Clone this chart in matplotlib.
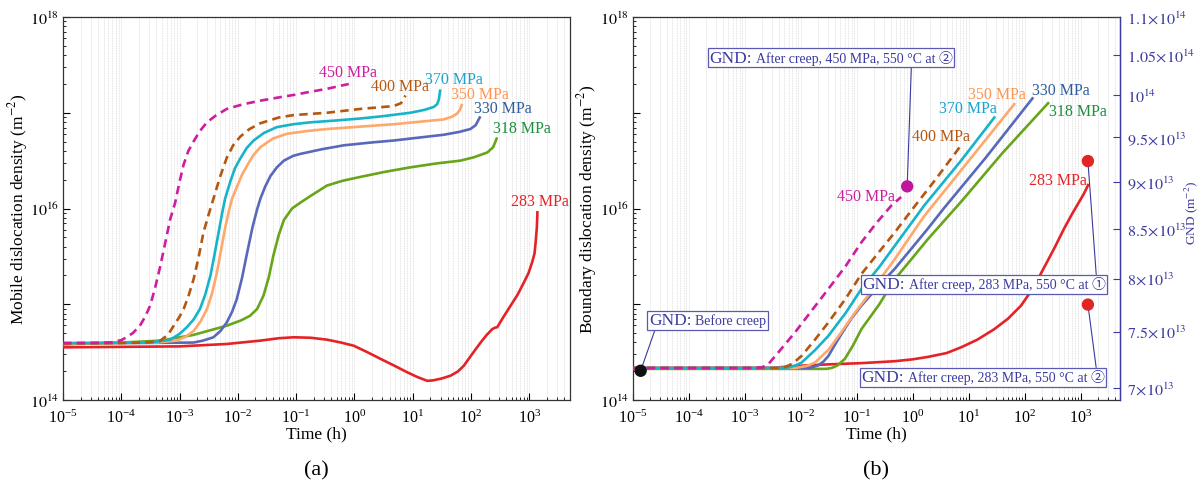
import numpy as np
import matplotlib
matplotlib.use('Agg')
import matplotlib.pyplot as plt
from matplotlib.ticker import (FixedLocator, FixedFormatter, LogLocator,
                               NullLocator, NullFormatter, FuncFormatter)
from matplotlib.offsetbox import TextArea, HPacker, AnnotationBbox

plt.rcParams['font.family'] = ['Liberation Serif', 'DejaVu Sans']
plt.rcParams['mathtext.fontset'] = 'stix'

# ---------------- data (log10 of time in h, log10 of density in m^-2) ----------------
labels = ['450 MPa', '400 MPa', '370 MPa', '350 MPa', '330 MPa', '318 MPa', '283 MPa']

# (a) Mobile dislocation density
mob_lt_450 = [-5, -4.5, -4.19, -4.0, -3.91, -3.8, -3.68, -3.59, -3.505, -3.42, -3.33, -3.25, -3.16, -3.076, -3.0, -2.93, -2.85, -2.76, -2.65, -2.53, -2.38, -2.19, -1.9, -1.615, -1.3, -1.04, -0.75, -0.47, -0.25, -0.098]
mob_lr_450 = [14.595, 14.597, 14.60, 14.625, 14.655, 14.70, 14.776, 14.87, 14.985, 15.17, 15.40, 15.63, 15.89, 16.06, 16.28, 16.46, 16.60, 16.70, 16.81, 16.90, 16.97, 17.04, 17.09, 17.126, 17.16, 17.186, 17.22, 17.25, 17.28, 17.30]
mob_lt_400 = [-5, -4, -3.6, -3.45, -3.33, -3.2, -3.10, -3.0, -2.93, -2.85, -2.76, -2.67, -2.59, -2.50, -2.42, -2.30, -2.19, -2.08, -1.96, -1.8, -1.615, -1.3, -1.04, -0.47, 0.103, 0.675, 0.80, 0.876]
mob_lr_400 = [14.59, 14.595, 14.60, 14.607, 14.62, 14.68, 14.776, 14.87, 14.95, 15.08, 15.26, 15.50, 15.75, 15.94, 16.10, 16.34, 16.53, 16.66, 16.75, 16.83, 16.89, 16.95, 16.976, 17.00, 17.04, 17.07, 17.10, 17.18]
mob_lt_370 = [-5, -3.5, -3.16, -3.0, -2.875, -2.76, -2.65, -2.56, -2.47, -2.40, -2.33, -2.27, -2.22, -2.13, -2.05, -1.96, -1.85, -1.73, -1.55, -1.33, -1.05, -0.756, -0.3, 0.103, 0.5, 0.96, 1.2, 1.36, 1.42, 1.45, 1.47]
mob_lr_370 = [14.595, 14.60, 14.63, 14.69, 14.76, 14.84, 14.95, 15.10, 15.30, 15.52, 15.75, 15.95, 16.10, 16.28, 16.42, 16.52, 16.63, 16.71, 16.79, 16.85, 16.88, 16.90, 16.92, 16.94, 16.965, 17.00, 17.03, 17.06, 17.09, 17.14, 17.23]
mob_lt_350 = [-5, -3.4, -3.05, -2.9, -2.76, -2.64, -2.53, -2.44, -2.36, -2.29, -2.22, -2.16, -2.10, -2.02, -1.93, -1.84, -1.73, -1.615, -1.4, -1.16, -0.8, -0.47, 0.1, 0.675, 1.1, 1.53, 1.68, 1.76, 1.81, 1.84]
mob_lr_350 = [14.59, 14.60, 14.62, 14.66, 14.72, 14.82, 14.95, 15.12, 15.33, 15.56, 15.79, 15.96, 16.10, 16.22, 16.35, 16.45, 16.56, 16.64, 16.73, 16.78, 16.81, 16.83, 16.855, 16.88, 16.905, 16.93, 16.96, 16.99, 17.03, 17.08]
mob_lt_330 = [-5, -2.76, -2.6, -2.42, -2.3, -2.19, -2.1, -2.02, -1.93, -1.84, -1.75, -1.67, -1.615, -1.53, -1.44, -1.33, -1.21, -1.05, -0.93, -0.55, -0.18, 0.3, 0.675, 1.1, 1.53, 1.8, 1.99, 2.08, 2.15]
mob_lr_330 = [14.59, 14.60, 14.62, 14.655, 14.72, 14.81, 14.92, 15.05, 15.27, 15.54, 15.80, 15.99, 16.10, 16.23, 16.34, 16.43, 16.50, 16.55, 16.57, 16.62, 16.66, 16.69, 16.71, 16.74, 16.77, 16.80, 16.83, 16.87, 16.95]
mob_lt_318 = [-5, -4, -3.33, -2.76, -2.19, -1.95, -1.79, -1.67, -1.56, -1.47, -1.39, -1.30, -1.21, -1.07, -0.93, -0.756, -0.6, -0.47, -0.2, 0.103, 0.5, 0.96, 1.4, 1.82, 2.05, 2.28, 2.38, 2.44]
mob_lr_318 = [14.58, 14.60, 14.62, 14.68, 14.776, 14.83, 14.88, 14.95, 15.09, 15.28, 15.51, 15.72, 15.88, 16.0, 16.06, 16.13, 16.19, 16.24, 16.29, 16.33, 16.38, 16.43, 16.47, 16.50, 16.535, 16.585, 16.64, 16.73]
mob_lt_283 = [-5, -3, -2.19, -1.615, -1.3, -1.04, -0.75, -0.47, -0.23, -0.012, 0.22, 0.447, 0.68, 0.905, 1.08, 1.25, 1.35, 1.5, 1.65, 1.78, 1.88, 2.02, 2.165, 2.27, 2.365, 2.41, 2.45, 2.56, 2.68, 2.80, 2.91, 2.99, 3.05, 3.09, 3.11, 3.13, 3.14]
mob_lr_283 = [14.55, 14.56, 14.585, 14.62, 14.645, 14.655, 14.65, 14.63, 14.60, 14.567, 14.50, 14.43, 14.36, 14.29, 14.24, 14.20, 14.205, 14.225, 14.254, 14.30, 14.36, 14.48, 14.60, 14.68, 14.74, 14.755, 14.76, 14.87, 14.985, 15.10, 15.23, 15.33, 15.44, 15.53, 15.65, 15.80, 15.96]

# (b) Boundary dislocation density
bnd_lt_450 = [-5, -2.85, -2.70, -2.58, -2.4, -2.105, -1.8, -1.51, -1.2, -0.92, -0.65, -0.386, -0.21]
bnd_lr_450 = [14.334, 14.334, 14.34, 14.376, 14.50, 14.707, 14.94, 15.16, 15.40, 15.647, 15.85, 16.03, 16.12]
bnd_lt_400 = [-5, -2.4, -2.28, -2.15, -1.99, -1.75, -1.51, -1.2, -0.92, -0.6, -0.325, 0.0, 0.4, 0.86]
bnd_lr_400 = [14.334, 14.334, 14.345, 14.38, 14.46, 14.63, 14.81, 15.06, 15.316, 15.55, 15.75, 16.0, 16.3, 16.66]
bnd_lt_370 = [-5, -2.3, -2.22, -2.1, -1.99, -1.75, -1.51, -1.2, -0.92, -0.6, -0.325, 0.2, 0.86, 1.454]
bnd_lr_370 = [14.334, 14.334, 14.34, 14.36, 14.39, 14.52, 14.67, 14.91, 15.16, 15.39, 15.61, 16.03, 16.50, 16.95]
bnd_lt_350 = [-5, -2.1, -1.9, -1.75, -1.5, -1.276, -1.05, -0.80, -0.325, 0.2, 1.0, 1.81]
bnd_lr_350 = [14.334, 14.334, 14.355, 14.39, 14.53, 14.71, 14.90, 15.09, 15.47, 15.92, 16.50, 17.09]
bnd_lt_330 = [-5, -1.85, -1.7, -1.6, -1.51, -1.4, -1.276, -1.1, -0.92, -0.6, -0.325, 0.0, 0.267, 0.55, 1.3, 2.135]
bnd_lr_330 = [14.334, 14.334, 14.36, 14.40, 14.46, 14.57, 14.69, 14.85, 14.985, 15.20, 15.37, 15.60, 15.79, 16.0, 16.53, 17.15]
bnd_lt_318 = [-5, -1.55, -1.45, -1.35, -1.215, -1.07, -0.92, -0.6, -0.325, 0.0, 0.267, 0.86, 1.6, 2.415]
bnd_lr_318 = [14.325, 14.325, 14.335, 14.36, 14.43, 14.57, 14.74, 15.0, 15.26, 15.49, 15.68, 16.07, 16.58, 17.10]
bnd_lt_283 = [-5, -2.5, -2.105, -1.51, -0.92, -0.325, 0.0, 0.267, 0.6, 0.86, 1.15, 1.454, 1.7, 1.93, 2.15, 2.34, 2.53, 2.70, 2.84, 2.95, 3.05, 3.13]
bnd_lr_283 = [14.334, 14.336, 14.355, 14.372, 14.385, 14.405, 14.425, 14.45, 14.49, 14.55, 14.63, 14.74, 14.85, 14.985, 15.17, 15.38, 15.59, 15.79, 15.94, 16.05, 16.15, 16.245]

# GND measurements (right axis)
gnd_time = [1.37e-5, 0.79, 1336, 1336]
gnd_value = [7.15e13, 8.95e13, 9.23e13, 7.75e13]
gnd_colors = ['#111111', '#c0169e', '#e32424', '#e32424']
gnd_texts = ['Before creep',
             'After creep, 450 MPa, 550 \u00b0C at \u2461',
             'After creep, 283 MPa, 550 \u00b0C at \u2460',
             'After creep, 283 MPa, 550 \u00b0C at \u2461']

gnd_ticks = [7e13, 7.5e13, 8e13, 8.5e13, 9e13, 9.5e13, 1e14, 1.05e14, 1.1e14]
gnd_ticklabels = [r'$7\!\times\!10^{13}$', r'$7.5\!\times\!10^{13}$', r'$8\!\times\!10^{13}$',
                  r'$8.5\!\times\!10^{13}$', r'$9\!\times\!10^{13}$', r'$9.5\!\times\!10^{13}$',
                  r'$10^{14}$', r'$1.05\!\times\!10^{14}$', r'$1.1\!\times\!10^{14}$']

# ---------------- styles ----------------
line_colors = ['#cc1f9f', '#b5570f', '#17b4c9', '#ffa86b', '#5868bb', '#68a51a', '#e52326']
text_colors = ['#cc1f9f', '#b5570f', '#1aa3cc', '#ff9550', '#2e5d9f', '#1a8f3c', '#e52326']
line_styles = [(0, (3.2, 2.0)), (0, (3.2, 2.0)), '-', '-', '-', '-', '-']
blue = '#3a3aa0'

mob = [(mob_lt_450, mob_lr_450), (mob_lt_400, mob_lr_400), (mob_lt_370, mob_lr_370),
       (mob_lt_350, mob_lr_350), (mob_lt_330, mob_lr_330), (mob_lt_318, mob_lr_318),
       (mob_lt_283, mob_lr_283)]
bnd = [(bnd_lt_450, bnd_lr_450), (bnd_lt_400, bnd_lr_400), (bnd_lt_370, bnd_lr_370),
       (bnd_lt_350, bnd_lr_350), (bnd_lt_330, bnd_lr_330), (bnd_lt_318, bnd_lr_318),
       (bnd_lt_283, bnd_lr_283)]

mob_label_pos = [(0.562, 0.856), (0.665, 0.820), (0.771, 0.838), (0.822, 0.799),
                 (0.868, 0.762), (0.905, 0.710), (0.941, 0.520)]
bnd_label_pos = [(0.479, 0.533), (0.633, 0.689), (0.688, 0.762), (0.747, 0.799),
                 (0.878, 0.809), (0.914, 0.755), (0.873, 0.574)]

fig = plt.figure(figsize=(12.01, 4.85), dpi=100)
axA = fig.add_axes([63/1201, 84/485, 507/1201, 383/485])
axB = fig.add_axes([633/1201, 84/485, 487/1201, 383/485])


def style_axis(ax):
    ax.set_xscale('log')
    ax.set_yscale('log')
    ax.set_xlim(1e-5, 5e3)
    ax.set_ylim(1e14, 1e18)
    ax.xaxis.set_major_locator(FixedLocator([10.0**k for k in range(-5, 4)]))
    ax.xaxis.set_minor_locator(LogLocator(base=10, subs=np.arange(2, 10), numticks=100))
    ax.xaxis.set_minor_formatter(NullFormatter())
    ax.yaxis.set_major_locator(FixedLocator([10.0**k for k in range(14, 19)]))
    ax.yaxis.set_major_formatter(FuncFormatter(
        lambda v, p: r'$10^{%d}$' % round(np.log10(v)) if round(np.log10(v)) % 2 == 0 else ''))
    ax.yaxis.set_minor_locator(LogLocator(base=10, subs=np.arange(2, 10), numticks=100))
    ax.yaxis.set_minor_formatter(NullFormatter())
    ax.tick_params(which='both', direction='in', top=False, right=False, labelsize=11.5)
    ax.tick_params(which='major', length=5, width=0.8)
    ax.tick_params(which='minor', length=2.5, width=0.6)
    ax.tick_params(axis='x', pad=6)
    ax.tick_params(axis='y', pad=3)
    ax.grid(True, which='both', axis='x', color='#dadada', lw=0.6, ls=(0, (1, 1)))
    for s in ax.spines.values():
        s.set_linewidth(0.9)
        s.set_color('#333333')
    ax.set_xlabel('Time (h)', fontsize=12.5)
    ax.xaxis.set_label_coords(0.5, -0.066)


style_axis(axA)
style_axis(axB)

for i in range(len(labels) - 1, -1, -1):
    lt, lr = mob[i]
    axA.plot(10.0**np.array(lt), 10.0**np.array(lr), color=line_colors[i],
             ls=line_styles[i], lw=1.9, zorder=3 + (6 - i))
    axA.text(*mob_label_pos[i], labels[i], transform=axA.transAxes, color=text_colors[i],
             fontsize=11.5, ha='center', va='center')
    lt, lr = bnd[i]
    axB.plot(10.0**np.array(lt), 10.0**np.array(lr), color=line_colors[i],
             ls=line_styles[i], lw=1.9, zorder=3 + (6 - i))
    axB.text(*bnd_label_pos[i], labels[i], transform=axB.transAxes, color=text_colors[i],
             fontsize=11.5, ha='center', va='center')

axA.set_ylabel('Mobile dislocation density (m$^{-2}$)', fontsize=12.5)
axA.yaxis.set_label_coords(-0.066, 0.5)
axB.set_ylabel('Boundary dislocation density (m$^{-2}$)', fontsize=12.5)
axB.yaxis.set_label_coords(-0.07, 0.5)

# right axis (GND)
ax2 = axB.twinx()
ax2.set_yscale('log')
ax2.set_ylim(6.9e13, 1.1e14)
ax2.yaxis.set_major_locator(FixedLocator(gnd_ticks))
ax2.yaxis.set_major_formatter(FixedFormatter(gnd_ticklabels))
ax2.yaxis.set_minor_locator(NullLocator())
ax2.tick_params(axis='y', which='major', direction='in', length=5, width=0.8,
                colors=blue, labelsize=11.5, pad=5)
ax2.spines['right'].set_color(blue)
ax2.spines['right'].set_linewidth(0.9)
for s in ['top', 'left', 'bottom']:
    ax2.spines[s].set_visible(False)
fig.text(1191/1201, 1 - 213/485, 'GND (m$^{-2}$)', fontsize=9.5, color=blue,
         rotation=90, ha='center', va='center')

ax2.scatter(gnd_time, gnd_value, s=62, c=gnd_colors, zorder=10)

box_pos = [(0.1533, 0.208), (0.4066, 0.8937), (0.7214, 0.302), (0.718, 0.0593)]
box_relpos = [(0.057, 0.0), (0.83, 0.0), (0.96, 1.0), (0.967, 1.0)]
fam = ['Liberation Serif', 'Noto Sans CJK JP', 'DejaVu Sans']
for i in range(4):
    t1 = TextArea('GND:', textprops=dict(fontsize=12.5, color=blue, family=fam))
    t2 = TextArea(gnd_texts[i], textprops=dict(fontsize=10, color=blue, family=fam))
    pack = HPacker(children=[t1, t2], align='baseline', pad=0, sep=3)
    ab = AnnotationBbox(pack, (gnd_time[i], gnd_value[i]), xycoords='data',
                        xybox=box_pos[i], boxcoords='axes fraction',
                        box_alignment=(0.5, 0.5), frameon=True, pad=0.35,
                        bboxprops=dict(boxstyle='square,pad=0.1', edgecolor='#5a5ab4',
                                       facecolor='white', lw=0.9),
                        arrowprops=dict(arrowstyle='-', color=blue, lw=0.8,
                                        relpos=box_relpos[i], shrinkA=0, shrinkB=0),
                        zorder=9)
    ax2.add_artist(ab)

fig.text(316/1201, 1 - 471/485, '(a)', fontsize=16, ha='center', va='center')
fig.text(876/1201, 1 - 471/485, '(b)', fontsize=16, ha='center', va='center')

fig.savefig('out.png', dpi=100)
